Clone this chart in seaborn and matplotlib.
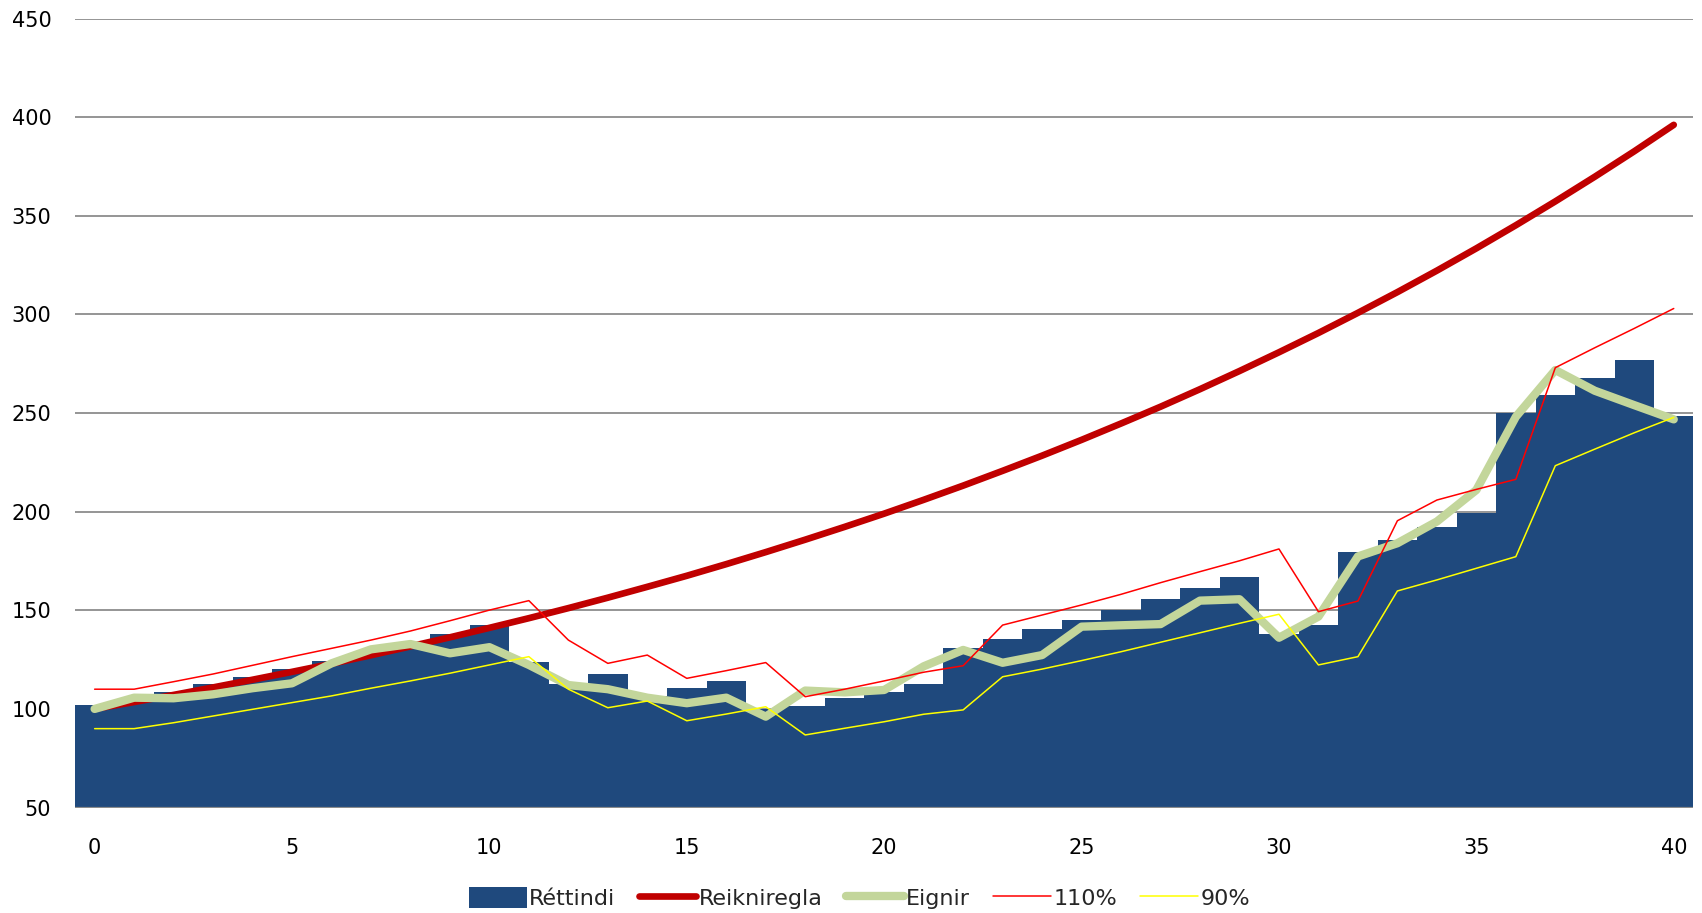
import matplotlib
matplotlib.use("Agg")
import matplotlib.pyplot as plt
import seaborn as sns
import pandas as pd

years = list(range(41))

rettindi = [101.8, 104.5, 108.7, 112.5, 116.3, 120.2, 124.5, 128.5, 132.4, 138.0,
            142.4, 123.9, 112.6, 117.7, 106.7, 110.5, 114.2, 99.8, 101.6, 105.4,
            108.7, 112.8, 131.0, 135.6, 140.4, 145.0, 150.1, 155.6, 161.1, 166.7,
            137.8, 142.5, 179.3, 185.6, 192.0, 199.5, 249.8, 259.0, 267.9, 276.9,
            248.5]

reikniregla = [100.0, 103.5, 107.1, 110.9, 114.8, 118.8, 122.9, 127.2, 131.7, 136.3,
               141.1, 146.0, 151.1, 156.4, 161.9, 167.5, 173.4, 179.5, 185.8, 192.3,
               199.0, 206.0, 213.2, 220.7, 228.4, 236.4, 244.7, 253.2, 262.1, 271.3,
               280.8, 290.6, 300.8, 311.3, 322.2, 333.5, 345.2, 357.3, 369.8, 382.7,
               396.1]

eignir = [100.0, 105.7, 105.4, 107.4, 110.5, 113.0, 123.1, 130.2, 132.9, 128.2,
          131.3, 122.3, 112.1, 110.0, 105.7, 102.9, 105.7, 96.1, 109.3, 108.4,
          109.6, 121.6, 129.9, 123.4, 127.3, 141.7, 142.4, 143.0, 154.9, 155.6,
          136.1, 146.8, 177.3, 184.0, 195.0, 211.0, 248.1, 271.8, 261.3, 254.0,
          246.8]

efri = [110.0, 110.0, 113.8, 117.7, 122.1, 126.5, 130.7, 134.9, 139.5, 144.7,
        150.1, 154.9, 134.9, 123.1, 127.3, 115.5, 119.4, 123.5, 106.2, 110.0,
        114.2, 118.6, 121.9, 142.5, 147.6, 152.7, 158.1, 164.0, 169.6, 175.1,
        181.1, 149.3, 154.7, 195.4, 205.9, 211.3, 216.4, 273.0, 283.1, 292.9,
        303.0]

nedri = [90.0, 90.0, 93.0, 96.4, 99.8, 103.2, 106.6, 110.5, 114.2, 118.1,
         122.3, 126.5, 110.0, 100.6, 104.0, 94.0, 97.4, 101.1, 86.8, 90.2,
         93.5, 97.3, 99.5, 116.3, 120.2, 124.5, 129.0, 133.8, 138.6, 143.4,
         148.0, 122.3, 126.5, 159.8, 165.4, 171.3, 177.2, 223.3, 231.7, 240.0,
         247.8]

x_ticks = [0, 5, 10, 15, 20, 25, 30, 35, 40]
y_ticks = [50, 100, 150, 200, 250, 300, 350, 400, 450]

df = pd.DataFrame({"ar": years, "Réttindi": rettindi, "Reikniregla": reikniregla,
                   "Eignir": eignir, "110%": efri, "90%": nedri})

sns.set_theme(style="white")
plt.rcParams["font.family"] = ["DejaVu Sans"]

fig = plt.figure(figsize=(17.02, 9.13), dpi=100)
ax = fig.add_axes([0.044, 0.1155, 0.951, 0.8642])

grid_color = "#8c8c8c"
for v in y_ticks:
    ax.axhline(v, color=grid_color, lw=1.3, zorder=0)

sns.barplot(data=df, x="ar", y="Réttindi", color="#1F497D", width=1.0,
            saturation=1, linewidth=0, label="Réttindi", ax=ax, zorder=2)

sns.lineplot(data=df, x="ar", y="Reikniregla", color="#C00000", lw=4.8,
             label="Reikniregla", ax=ax, zorder=3, solid_capstyle="round")
sns.lineplot(data=df, x="ar", y="Eignir", color="#C3D69B", lw=6.0,
             label="Eignir", ax=ax, zorder=4, solid_capstyle="round")
sns.lineplot(data=df, x="ar", y="110%", color="#FF0000", lw=1.1,
             label="110%", ax=ax, zorder=5)
sns.lineplot(data=df, x="ar", y="90%", color="#FFFF00", lw=1.1,
             label="90%", ax=ax, zorder=5)

ax.axhline(50, color=grid_color, lw=1.6, zorder=6)

ax.set_xlim(-0.5, 40.5)
ax.set_ylim(50, 450)
ax.set_xticks(x_ticks)
ax.set_xticklabels([str(t) for t in x_ticks])
ax.set_yticks(y_ticks)
ax.set_yticklabels([str(t) for t in y_ticks])
ax.tick_params(axis="both", length=0, labelsize=15, colors="#000000")
ax.tick_params(axis="x", pad=22)
ax.tick_params(axis="y", pad=17)
ax.set_xlabel("")
ax.set_ylabel("")
for s in ax.spines.values():
    s.set_visible(False)

handles, labels = ax.get_legend_handles_labels()
if ax.get_legend() is not None:
    ax.get_legend().remove()
order = [labels.index(n) for n in ["Réttindi", "Reikniregla", "Eignir", "110%", "90%"]]
handles = [handles[i] for i in order]
labels = [labels[i] for i in order]
fig.legend(handles, labels, loc="center", bbox_to_anchor=(0.505, 0.016),
           ncol=5, frameon=False, fontsize=16, handlelength=2.6,
           handleheight=1.05, handletextpad=0.1, columnspacing=1.05)

fig.savefig("out.png", dpi=100)
